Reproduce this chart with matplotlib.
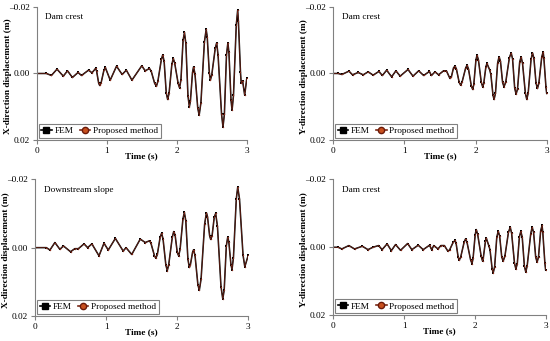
import matplotlib
matplotlib.use("Agg")
import matplotlib.pyplot as plt
from matplotlib.lines import Line2D

plt.rcParams["font.family"] = ["Liberation Serif", "DejaVu Serif"]

# points, time (s) and displacement (m)
t_x_crest = [0, 0.14, 0.21, 0.29, 0.38, 0.44, 0.51, 0.59, 0.64, 0.74,
             0.79, 0.84, 0.855, 0.885, 0.90, 0.92, 0.96, 0.98, 1.05, 1.14,
             1.22, 1.28, 1.36, 1.50, 1.55, 1.61, 1.635, 1.685, 1.71, 1.73,
             1.78, 1.80, 1.82, 1.85, 1.87, 1.89, 1.93, 1.95, 1.97, 2.02,
             2.04, 2.06, 2.09, 2.11, 2.13, 2.16, 2.18, 2.195, 2.225, 2.24,
             2.26, 2.30, 2.32, 2.345, 2.395, 2.42, 2.435, 2.465, 2.48, 2.50,
             2.55, 2.57, 2.59, 2.64, 2.66, 2.68, 2.71, 2.73, 2.745, 2.775,
             2.79, 2.81, 2.85, 2.87, 2.88, 2.91, 2.92, 2.94, 2.97, 3.00]
d_x_crest = [0, 0, 0.0006, -0.0013, 0.0008, -0.0008, 0.0012, -0.0003, 0.0006, -0.0010,
             -0.0002, -0.0015, -0.0008, 0.0029, 0.0036, 0.0028, -0.0010, -0.0018, 0.0020, -0.0022,
             0.0003, -0.0010, 0.0020, -0.0023, -0.0008, -0.0015, -0.0007, 0.0030, 0.0038, 0.0024,
             -0.0042, -0.0056, -0.0036, 0.0058, 0.0078, 0.0060, -0.0027, -0.0045, -0.0032, 0.0030,
             0.0043, 0.0019, -0.0099, -0.0123, -0.0090, 0.0067, 0.0100, 0.0083, -0.0003, -0.0020,
             0.0001, 0.0104, 0.0125, 0.0088, -0.0095, -0.0132, -0.0110, -0.0002, 0.0020, 0.0004,
             -0.0076, -0.0092, -0.0055, 0.0123, 0.0160, 0.0123, -0.0055, -0.0092, -0.0063, 0.0081,
             0.0110, 0.0066, -0.0146, -0.0190, -0.0158, -0.0004, 0.0028, 0.0022, 0.0065, 0.0015]

t_y_crest = [0, 0.07, 0.12, 0.22, 0.27, 0.35, 0.42, 0.49, 0.56, 0.64,
             0.69, 0.75, 0.82, 0.88, 0.94, 1.05, 1.12, 1.20, 1.27, 1.35,
             1.38, 1.43, 1.48, 1.55, 1.59, 1.64, 1.66, 1.69, 1.71, 1.73,
             1.77, 1.79, 1.81, 1.86, 1.88, 1.90, 1.94, 1.96, 1.975, 2.005,
             2.02, 2.04, 2.08, 2.10, 2.115, 2.145, 2.16, 2.20, 2.215, 2.245,
             2.26, 2.28, 2.31, 2.33, 2.35, 2.38, 2.40, 2.425, 2.475, 2.50,
             2.52, 2.55, 2.57, 2.59, 2.62, 2.64, 2.66, 2.70, 2.72, 2.74,
             2.78, 2.80, 2.82, 2.85, 2.87, 2.89, 2.93, 2.95, 2.96, 2.99, 3.00]
d_y_crest = [0, 0, 0.0003, -0.0007, 0.0004, -0.0003, 0.0004, -0.0005, 0.0005, -0.0006,
             0.0006, -0.0010, 0.0010, -0.0008, 0.0008, -0.0012, 0.0008, -0.0008, 0.0006, -0.0006,
             0.0006, -0.0005, 0.0004, -0.0008, -0.0008, 0.0015, 0.0010, -0.0017, -0.0022, -0.0014,
             0.0027, 0.0035, 0.0026, -0.0016, -0.0025, -0.0014, 0.0037, 0.0048, 0.0033, -0.0040,
             -0.0055, -0.0041, 0.0026, 0.0040, 0.0030, -0.0020, -0.0030, -0.0010, 0.0003, 0.0065,
             0.0078, 0.0059, -0.0031, -0.0050, -0.0037, 0.0027, 0.0040, 0.0025, -0.0047, -0.0062,
             -0.0044, 0.0044, 0.0062, 0.0046, -0.0034, -0.0050, -0.0031, 0.0059, 0.0078, 0.0058,
             -0.0042, -0.0062, -0.0046, 0.0029, 0.0045, 0.0029, -0.0049, -0.0065, -0.0047, 0.0042, 0.0060]

t_x_slope = [0, 0.16, 0.21, 0.28, 0.35, 0.40, 0.50, 0.56, 0.61, 0.69,
             0.74, 0.80, 0.90, 0.97, 1.03, 1.13, 1.24, 1.28, 1.36, 1.48,
             1.55, 1.61, 1.63, 1.68, 1.70, 1.72, 1.76, 1.78, 1.80, 1.84,
             1.86, 1.88, 1.93, 1.95, 1.97, 2.00, 2.02, 2.04, 2.08, 2.10,
             2.12, 2.15, 2.17, 2.185, 2.215, 2.23, 2.25, 2.29, 2.31, 2.335,
             2.385, 2.41, 2.425, 2.455, 2.47, 2.49, 2.52, 2.54, 2.565, 2.615,
             2.64, 2.66, 2.69, 2.71, 2.725, 2.755, 2.77, 2.79, 2.83, 2.85,
             2.875, 2.925, 2.95, 3.00]
d_x_slope = [0, 0, 0.0007, -0.0015, 0.0005, -0.0005, 0.0012, 0.0003, 0.0003, -0.0011,
             0.0000, -0.0011, 0.0024, -0.0013, 0.0007, -0.0027, 0.0010, 0.0000, 0.0020, -0.0025,
             -0.0015, -0.0020, -0.0013, 0.0024, 0.0031, 0.0020, -0.0031, -0.0042, -0.0026, 0.0051,
             0.0067, 0.0050, -0.0030, -0.0047, -0.0037, 0.0014, 0.0024, 0.0005, -0.0084, -0.0103,
             -0.0079, 0.0034, 0.0058, 0.0050, 0.0014, 0.0006, 0.0023, 0.0108, 0.0125, 0.0092,
             -0.0069, -0.0102, -0.0091, -0.0035, -0.0024, -0.0035, -0.0089, -0.0100, -0.0063, 0.0114,
             0.0150, 0.0124, -0.0005, -0.0031, -0.0017, 0.0050, 0.0064, 0.0029, -0.0142, -0.0177,
             -0.0143, 0.0022, 0.0056, 0.0021]

t_y_crest2 = [0, 0.07, 0.12, 0.22, 0.30, 0.41, 0.49, 0.56, 0.64, 0.69,
              0.76, 0.82, 0.88, 0.95, 1.05, 1.11, 1.20, 1.27, 1.36, 1.39,
              1.42, 1.48, 1.52, 1.57, 1.62, 1.645, 1.695, 1.72, 1.735, 1.765,
              1.78, 1.80, 1.85, 1.87, 1.89, 1.94, 1.96, 1.975, 2.005, 2.02,
              2.04, 2.09, 2.11, 2.12, 2.15, 2.16, 2.20, 2.215, 2.245, 2.26,
              2.28, 2.31, 2.33, 2.35, 2.38, 2.40, 2.425, 2.475, 2.50, 2.52,
              2.56, 2.58, 2.60, 2.63, 2.65, 2.67, 2.70, 2.72, 2.74, 2.79,
              2.81, 2.83, 2.86, 2.88, 2.90, 2.93, 2.95, 2.96, 2.99, 3.00]
d_y_crest2 = [0, 0, 0.0005, -0.0005, 0.0005, -0.0003, 0.0007, 0.0000, -0.0005, 0.0007,
              -0.0010, 0.0010, -0.0008, 0.0009, -0.0011, 0.0007, -0.0006, 0.0007, -0.0006, 0.0007,
              -0.0005, 0.0005, -0.0005, -0.0005, 0.0012, 0.0007, -0.0015, -0.0020, -0.0012, 0.0030,
              0.0038, 0.0029, -0.0016, -0.0025, -0.0014, 0.0037, 0.0048, 0.0033, -0.0037, -0.0052,
              -0.0038, 0.0027, 0.0041, 0.0031, -0.0018, -0.0028, -0.0003, 0.0008, 0.0064, 0.0075,
              0.0057, -0.0029, -0.0047, -0.0034, 0.0028, 0.0041, 0.0026, -0.0044, -0.0059, -0.0041,
              0.0046, 0.0064, 0.0048, -0.0031, -0.0047, -0.0029, 0.0055, 0.0073, 0.0054, -0.0040,
              -0.0059, -0.0044, 0.0029, 0.0044, 0.0028, -0.0048, -0.0064, -0.0045, 0.0047, 0.0066]

panels = [
    (t_x_crest, d_x_crest, "Dam crest", "X-direction displacement (m)", [0.0667, 0.589, 0.382, 0.391]),
    (t_y_crest, d_y_crest, "Dam crest", "Y-direction displacement (m)", [0.606, 0.589, 0.388, 0.391]),
    (t_x_slope, d_x_slope, "Downstream slope", "X-direction displacement (m)", [0.0636, 0.0733, 0.388, 0.401]),
    (t_y_crest2, d_y_crest2, "Dam crest", "Y-direction displacement (m)", [0.606, 0.0754, 0.386, 0.399]),
]

FS = 6.7
GREY = "#808080"
RED = "#8a2c1c"
W, H = 550, 341

fig = plt.figure(figsize=(W / 100, H / 100), dpi=100)

for t, d, name, ylab, rect in panels:
    ax = fig.add_axes(rect)
    wpx, hpx = rect[2] * W, rect[3] * H
    ax.plot(t, d, color="black", lw=1.1, marker="s", ms=1.8, mew=0)
    ax.plot(t, d, color=RED, lw=0.4, marker="o", ms=1.0, mfc=RED, mec=RED, mew=0)
    ax.set_xlim(0, 3)
    ax.set_ylim(0.02, -0.02)
    ax.set_xticks([0, 1, 2, 3])
    ax.set_yticks([-0.02, 0.0, 0.02])
    ax.set_yticklabels(["\u20130.02", "0.00", "0.02"])
    for s in ["top", "right"]:
        ax.spines[s].set_visible(False)
    for s in ["left", "bottom"]:
        ax.spines[s].set_color(GREY)
        ax.spines[s].set_linewidth(0.8)
    ax.tick_params(labelsize=FS, length=3, width=0.8, color=GREY, pad=2)
    ax.set_xlabel("Time (s)", fontsize=FS, fontweight="bold")
    ax.set_ylabel(ylab, fontsize=FS, fontweight="bold")
    ax.xaxis.set_label_coords(0.5, -12.0 / hpx)
    ax.yaxis.set_label_coords(-25.0 / wpx, 0.48)
    ax.text(0.04, 0.92, name, transform=ax.transAxes, fontsize=FS, va="center")

    handles = [
        Line2D([], [], color="black", lw=1.2, marker="s", ms=4, mfc="black", mec="black"),
        Line2D([], [], color="#7a2a18", lw=1.2, marker="o", ms=4.5, mfc="#c8501e", mec="#6b1a0a"),
    ]
    leg = ax.legend(handles, ["FEM", "Proposed method"], loc="lower left", ncol=2,
                    fontsize=FS, frameon=True, fancybox=False, framealpha=1,
                    edgecolor=GREY, handlelength=1.1, handletextpad=0.3,
                    columnspacing=0.7, borderpad=0.3, borderaxespad=0.2)
    leg.get_frame().set_linewidth(0.8)

fig.savefig("out.png", dpi=100)
